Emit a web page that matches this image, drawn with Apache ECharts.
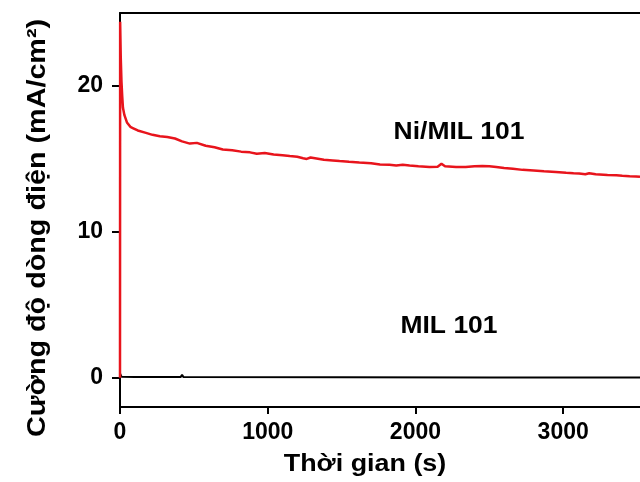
<!DOCTYPE html>
<html>
<head>
<meta charset="utf-8">
<script src="https://cdn.jsdelivr.net/npm/echarts@6/dist/echarts.min.js"></script>
<style>
  html, body { margin: 0; padding: 0; background: #fff; }
  #chart { width: 640px; height: 482px; }
</style>
</head>
<body>
<div id="chart"></div>
<script>
// time (s) and current density (mA/cm2)
const niTime = [0, 1, 5, 10, 15, 20, 30, 47, 70, 90, 120, 170, 220, 270, 320, 372, 420, 473, 520, 580,
  640, 696, 760, 820, 880, 926, 980, 1040, 1100, 1149, 1200, 1240, 1264, 1290, 1320, 1380, 1440, 1486,
  1550, 1620, 1700, 1760, 1824, 1870, 1914, 1960, 2020, 2095, 2150, 2176, 2200, 2275, 2340, 2400, 2453,
  2500, 2547, 2600, 2660, 2725, 2800, 2870, 2950, 3020, 3070, 3108, 3150, 3176, 3220, 3300, 3360, 3400,
  3450, 3493, 3520];
const niCurrent = [0, 24.4, 22.0, 20.3, 19.3, 18.5, 18.0, 17.5, 17.2, 17.1, 16.95, 16.8, 16.65, 16.55, 16.5,
  16.4, 16.2, 16.05, 16.1, 15.9, 15.8, 15.65, 15.6, 15.5, 15.45, 15.35, 15.4, 15.3, 15.25, 15.2, 15.15,
  15.05, 15.0, 15.1, 15.05, 14.95, 14.9, 14.85, 14.8, 14.75, 14.7, 14.62, 14.6, 14.55, 14.6, 14.55, 14.5,
  14.45, 14.47, 14.67, 14.5, 14.45, 14.45, 14.5, 14.52, 14.5, 14.45, 14.38, 14.32, 14.25, 14.2, 14.15,
  14.1, 14.05, 14.02, 14.0, 13.95, 14.02, 13.95, 13.9, 13.88, 13.85, 13.82, 13.8, 13.78];

const milTime = [0, 10, 100, 410, 420, 430, 1500, 2500, 3520];
const milCurrent = [0.3, 0.08, 0.05, 0.05, 0.2, 0.05, 0.04, 0.03, 0.03];

const xTicks = [0, 1000, 2000, 3000];
const yTicks = [0, 10, 20];

const xTitle = 'Thời gian (s)';
const yTitle = 'Cường độ dòng điện (mA/cm²)';
const niName = 'Ni/MIL 101';
const milName = 'MIL 101';

const font = '"Liberation Sans", Arial, sans-serif';
const chart = echarts.init(document.getElementById('chart'));

const pairs = (xs, ys) => xs.map((x, i) => [x, ys[i]]);

chart.setOption({
    animation: false,
    grid: { left: 120, right: 0, top: 13, bottom: 75 },
    xAxis: [{
        type: 'value',
        min: 0,
        max: 3520,
        splitLine: { show: false },
        axisLine: { onZero: false, lineStyle: { color: '#000', width: 2 } },
        axisTick: { customValues: xTicks, length: 7, lineStyle: { color: '#000', width: 2 } },
        axisLabel: {
            customValues: xTicks,
            formatter: (v) => String(v),
            margin: 14,
            color: '#000',
            fontFamily: font,
            fontWeight: 'bold',
            fontSize: 23
        }
    }, {
        type: 'value',
        position: 'top',
        min: 0,
        max: 3520,
        splitLine: { show: false },
        axisLine: { show: true, onZero: false, lineStyle: { color: '#000', width: 2 } },
        axisTick: { show: false },
        axisLabel: { show: false }
    }],
    yAxis: {
        type: 'value',
        min: -2,
        max: 25,
        splitLine: { show: false },
        axisLine: { onZero: false, lineStyle: { color: '#000', width: 2 } },
        axisTick: { customValues: yTicks, length: 8, lineStyle: { color: '#000', width: 2 } },
        axisLabel: {
            customValues: yTicks,
            formatter: (v) => String(v),
            margin: 17,
            color: '#000',
            fontFamily: font,
            fontWeight: 'bold',
            fontSize: 23
        }
    },
    series: [{
        name: milName,
        type: 'line',
        showSymbol: false,
        data: pairs(milTime, milCurrent),
        lineStyle: { color: '#000', width: 2 },
        z: 3
    }, {
        name: niName,
        type: 'line',
        showSymbol: false,
        data: pairs(niTime, niCurrent),
        lineStyle: { color: '#e8141c', width: 2.5 },
        z: 4
    }],
    graphic: [{
        type: 'text',
        x: 365,
        y: 464,
        scaleX: 1.12,
        style: {
            text: xTitle,
            fontFamily: font,
            fontWeight: 'bold',
            fontSize: 24,
            fill: '#000',
            textAlign: 'center',
            textVerticalAlign: 'middle'
        }
    }, {
        type: 'text',
        x: 38,
        y: 228,
        rotation: Math.PI / 2,
        scaleX: 1.15,
        style: {
            text: yTitle,
            fontFamily: font,
            fontWeight: 'bold',
            fontSize: 25,
            fill: '#000',
            textAlign: 'center',
            textVerticalAlign: 'middle'
        }
    }, {
        type: 'text',
        x: 459,
        y: 133,
        scaleX: 1.15,
        style: {
            text: niName,
            fontFamily: font,
            fontWeight: 'bold',
            fontSize: 23,
            fill: '#000',
            textAlign: 'center',
            textVerticalAlign: 'middle'
        }
    }, {
        type: 'text',
        x: 449,
        y: 327,
        scaleX: 1.15,
        style: {
            text: milName,
            fontFamily: font,
            fontWeight: 'bold',
            fontSize: 23,
            fill: '#000',
            textAlign: 'center',
            textVerticalAlign: 'middle'
        }
    }]
});
</script>
</body>
</html>
